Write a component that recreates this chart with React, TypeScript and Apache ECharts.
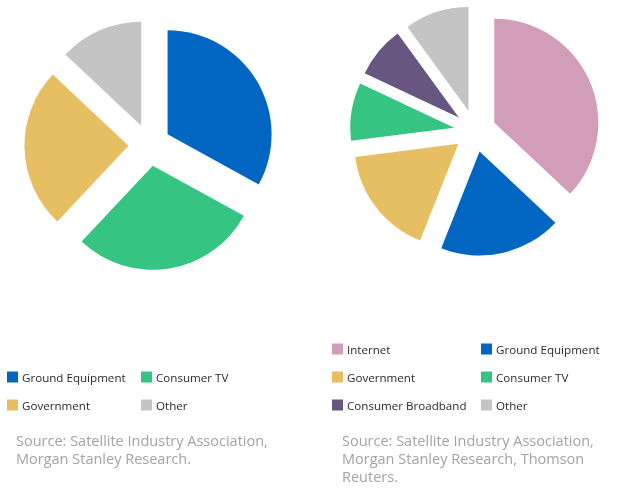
import React, { useEffect, useRef } from "react";
import * as echarts from "echarts";

// Left pie
const leftCategories = ["Ground Equipment", "Consumer TV", "Government", "Other"];
const leftValues = [33, 29, 25, 13];
const leftColors = ["#0066c2", "#36c483", "#e6bf63", "#c4c4c4"];

// Right pie
const rightCategories = ["Internet", "Ground Equipment", "Government", "Consumer TV", "Consumer Broadband", "Other"];
const rightValues = [37, 19, 17, 9, 8, 10];
const rightColors = ["#d19db9", "#0066c2", "#e6bf63", "#36c483", "#67567f", "#c4c4c4"];

const leftSource = "Source: Satellite Industry Association,\nMorgan Stanley Research.";
const rightSource = "Source: Satellite Industry Association,\nMorgan Stanley Research, Thomson\nReuters.";

const FONT = "'Open Sans', 'Noto Sans', sans-serif";

export default function App() {
  const ref = useRef<HTMLDivElement>(null);
  useEffect(() => {
    document.body.style.margin = "0";
    const chart = echarts.init(ref.current!, null, { renderer: "svg" });

    const mkPie = (id: string, cats: string[], vals: number[], colors: string[], center: number[]) => ({
      type: "pie",
      id,
      center,
      radius: [0, 104],
      startAngle: 90,
      clockwise: true,
      selectedMode: "multiple",
      selectedOffset: 21,
      label: { show: false },
      labelLine: { show: false },
      emphasis: { disabled: true },
      itemStyle: { borderWidth: 0 },
      data: cats.map((c, i) => ({ name: c, value: vals[i], selected: true, itemStyle: { color: colors[i] } })),
    });

    const legendItem = (name: string, left: number, cy: number) => ({
      left,
      top: cy - 7,
      padding: 0,
      selectedMode: false,
      icon: "rect",
      itemWidth: 11,
      itemHeight: 11,
      itemGap: 0,
      data: [name],
      textStyle: { fontFamily: FONT, fontSize: 11.6, color: "#2a2a2a", padding: [0, 0, 0, -1] },
    });

    const legends = [
      legendItem("Ground Equipment", 7, 378),
      legendItem("Consumer TV", 141, 378),
      legendItem("Government", 7, 406),
      legendItem("Other", 141, 406),
    ];
    const rightPos = [
      [332, 350], [481, 350],
      [332, 378], [481, 378],
      [332, 406], [481, 406],
    ];
    rightCategories.forEach((c, i) => legends.push(legendItem(c, rightPos[i][0], rightPos[i][1])));

    chart.setOption({
      animation: false,
      legend: legends,
      series: [
        mkPie("left", leftCategories, leftValues, leftColors, [149.5, 145]),
        mkPie("right", rightCategories, rightValues, rightColors, [475, 131]),
      ],
      graphic: [
        {
          type: "text",
          left: 16,
          top: 432,
          style: { text: leftSource, fontFamily: FONT, fontSize: 14.5, lineHeight: 17.6, fill: "#a3a3a3" },
        },
        {
          type: "text",
          left: 342,
          top: 432,
          style: { text: rightSource, fontFamily: FONT, fontSize: 14.5, lineHeight: 17.6, fill: "#a3a3a3" },
        },
      ],
    });
    return () => chart.dispose();
  }, []);
  return <div ref={ref} style={{ position: "fixed", left: 0, top: 0, width: 620, height: 490 }} />;
}
